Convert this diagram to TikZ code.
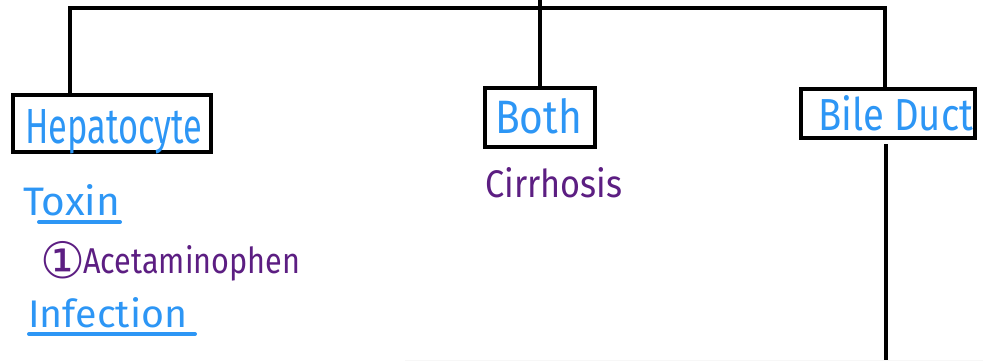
\documentclass[tikz,border=0pt]{standalone}
\usepackage{fontspec}
\usepackage{graphicx}
\setmainfont{Fira Sans}
\newfontfamily\dvfont{DejaVu Sans}
\definecolor{hblue}{RGB}{45,150,245}
\definecolor{hpurple}{RGB}{92,30,130}
\newcommand{\fitx}[3]{\resizebox{#1pt}{#2pt}{#3}}
\tikzset{
  line/.style={line width=4pt, black},
  boxnode/.style={draw=black, line width=4pt, fill=none, inner sep=0pt},
  bluetxt/.style={text=hblue, inner sep=0pt, anchor=base west},
  purptxt/.style={text=hpurple, inner sep=0pt, anchor=base west},
  uline/.style={hblue, line width=4pt, line cap=round}
}
\begin{document}
\begin{tikzpicture}[x=1pt,y=-1pt]
\useasboundingbox (0,0) rectangle (983,361);
% boxes
\node[boxnode, minimum width=198pt, minimum height=57pt] (hep) at (112,123.5) {};
\node[boxnode, minimum width=110pt, minimum height=59pt] (both) at (540,117.5) {};
\node[boxnode, minimum width=174pt, minimum height=49pt] (bile) at (888,113.5) {};
% connector points
\coordinate (tl) at (70,8);
\coordinate (tr) at (885,8);
\coordinate (top) at (540,0);
\coordinate (bbot) at (886,361);
\draw[line, line cap=rect] (tl) -- (tr);
\draw[line] (top) -- (both.north);
\draw[line] (tl) -- (tl |- hep.north);
\draw[line] (tr) -- (tr |- bile.north);
\draw[line] ([yshift=-4pt]bile.south -| bbot) -- (bbot);
% faint bottom edge
\coordinate (fl) at (405,360.5);
\coordinate (fr) at (983,360.5);
\draw[black!3, line width=1pt] (fl) -- (fr);
% box texts
\node[bluetxt] (thep) at (25,143) {\fitx{177}{34}{Hepatocyte}};
\node[bluetxt] (tboth) at (495,133) {\fitx{87}{35}{Both}};
\node[bluetxt] (tbile) at (818,130) {\fitx{155}{35}{Bile Duct}};
% left list
\node[bluetxt] (ttox) at (23,215) {\fitx{97}{31}{Toxin}};
\coordinate (u1a) at (39,222);
\coordinate (u1b) at (120,222);
\draw[uline] (u1a) -- (u1b);
\node[purptxt] (tnum) at (40,278) {\resizebox{45pt}{!}{\dvfont ①}};
\node[purptxt] (tacet) at (83,273) {\fitx{217}{28}{Acetaminophen}};
\node[bluetxt] (tinf) at (28,327) {\fitx{159}{30}{Infection}};
\coordinate (u2a) at (29,334);
\coordinate (u2b) at (195,334);
\draw[uline] (u2a) -- (u2b);
% middle
\node[purptxt] (tcirr) at (485,197) {\fitx{137}{30}{Cirrhosis}};
\end{tikzpicture}
\end{document}
